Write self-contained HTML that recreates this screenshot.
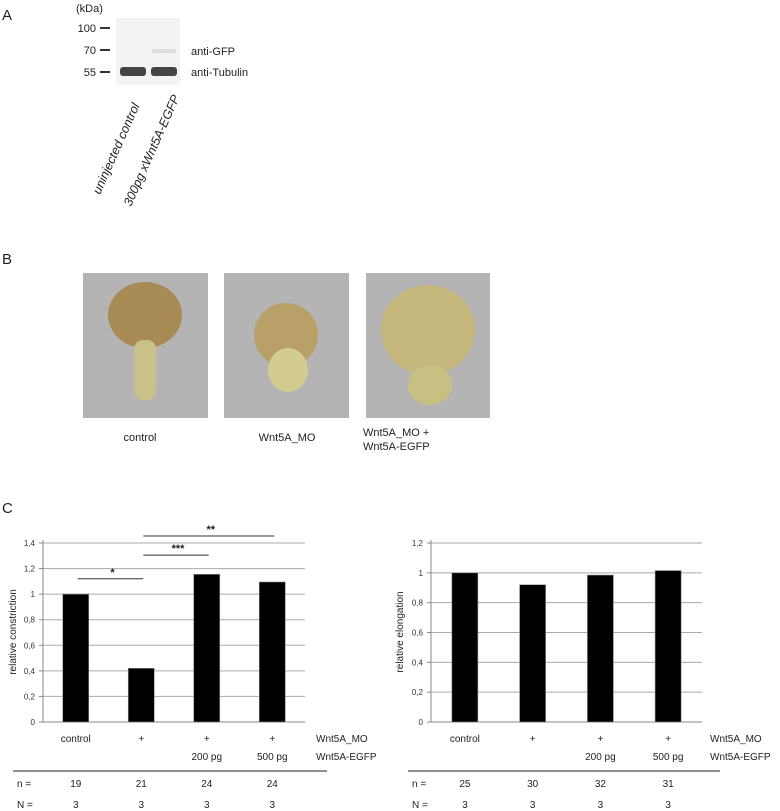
<!DOCTYPE html>
<html><head><meta charset="utf-8"><style>
body{margin:0;background:#fff;}
svg{display:block;font-family:"Liberation Sans",Arial,sans-serif;}
</style></head><body>
<svg width="780" height="811" viewBox="0 0 780 811">
<!-- Panel A -->
<text x="2" y="20" font-size="15" fill="#222">A</text>
<g>
<text x="76" y="12" font-size="11" fill="#222">(kDa)</text>
<rect x="116" y="18" width="64" height="67" fill="#f3f3f3"/>
<text x="96" y="32" font-size="11" text-anchor="end" fill="#222">100</text>
<text x="96" y="54" font-size="11" text-anchor="end" fill="#222">70</text>
<text x="96" y="76" font-size="11" text-anchor="end" fill="#222">55</text>
<rect x="100" y="27" width="10" height="2" fill="#333"/>
<rect x="100" y="49" width="10" height="2" fill="#333"/>
<rect x="100" y="71" width="10" height="2" fill="#333"/>
<rect x="120" y="67" width="26" height="9" rx="3" fill="#444"/>
<rect x="151" y="67" width="26" height="9" rx="3" fill="#444"/>
<rect x="152" y="49" width="24" height="4" rx="2" fill="#ddd"/>
<text x="191" y="55" font-size="11" fill="#222">anti-GFP</text>
<text x="191" y="76" font-size="11" fill="#222">anti-Tubulin</text>
<text transform="translate(100,195) rotate(-66)" font-size="12.5" font-style="italic" fill="#222">uninjected control</text>
<text transform="translate(131,207) rotate(-66)" font-size="12.5" font-style="italic" fill="#222">300pg xWnt5A-EGFP</text>
</g>
<!-- Panel B -->
<text x="2" y="264" font-size="15" fill="#222">B</text>
<g>
<rect x="83" y="273" width="125" height="145" fill="#b4b4b4"/>
<rect x="224" y="273" width="125" height="145" fill="#b4b4b4"/>
<rect x="366" y="273" width="124" height="145" fill="#b4b4b4"/>
<ellipse cx="145" cy="315" rx="37" ry="33" fill="#a88a55"/>
<rect x="134" y="340" width="22" height="60" rx="9" fill="#c9c08a"/>
<ellipse cx="286" cy="335" rx="32" ry="32" fill="#b8a068"/>
<ellipse cx="288" cy="370" rx="20" ry="22" fill="#d2cc90"/>
<ellipse cx="428" cy="330" rx="47" ry="45" fill="#c6b87c"/>
<ellipse cx="430" cy="385" rx="22" ry="20" fill="#c8bf82"/>
<text x="140" y="441" font-size="11" text-anchor="middle" fill="#222">control</text>
<text x="287" y="441" font-size="11" text-anchor="middle" fill="#222">Wnt5A_MO</text>
<text x="363" y="436" font-size="11" fill="#222">Wnt5A_MO +</text>
<text x="363" y="450" font-size="11" fill="#222">Wnt5A-EGFP</text>
</g>
<text x="2" y="513" font-size="15" fill="#222">C</text>
<g id="chart1"></g>
<g id="chart2"></g>
</svg>
<script>
const categories = ["control", "+", "+", "+"];
const egfpLabels = ["", "", "200 pg", "500 pg"];
const constrictionValues = [1.0, 0.42, 1.155, 1.095];
const elongationValues = [1.0, 0.92, 0.985, 1.015];
const constrictionN = ["19", "21", "24", "24"];
const elongationN = ["25", "30", "32", "31"];
const replicatesN = ["3", "3", "3", "3"];
const constrictionTicks = ["0", "0,2", "0,4", "0,6", "0,8", "1", "1,2", "1,4"];
const elongationTicks = ["0", "0,2", "0,4", "0,6", "0,8", "1", "1,2"];
const sigBars = [{from:0, to:1, y:1.12, label:"*"}, {from:1, to:2, y:1.305, label:"***"}, {from:1, to:3, y:1.455, label:"**"}];

const NS = "http://www.w3.org/2000/svg";
function mk(parent, tag, attrs, text) {
  const el = document.createElementNS(NS, tag);
  for (const k in attrs) el.setAttribute(k, attrs[k]);
  if (text !== undefined) el.textContent = text;
  parent.appendChild(el);
  return el;
}
function drawChart(gid, cfg) {
  const g = document.getElementById(gid);
  const x0 = cfg.x0, x1 = cfg.x1, yTop = 543, yBot = 722;
  const ymax = cfg.max;
  const yS = v => yBot - v / ymax * (yBot - yTop);
  const bw = (x1 - x0) / cfg.values.length;
  const xC = i => x0 + bw * (i + 0.5);
  cfg.ticks.forEach((t, i) => {
    const v = i * 0.2, y = yS(v);
    if (i > 0) { const gl = mk(g, "line", {x1:x0, x2:x1, y1:y, y2:y, stroke:"#aaa", "stroke-width":1});
        }
    mk(g, "line", {x1:x0-4, x2:x0, y1:y, y2:y, stroke:"#888"});
    const tl = mk(g, "text", {x:x0-8, y:y+3, "font-size":8, "text-anchor":"end", fill:"#333"}, t);
     
  });
  mk(g, "line", {x1:x0, x2:x0, y1:yTop-3, y2:yBot, stroke:"#888"});
  mk(g, "line", {x1:x0, x2:x1, y1:yBot, y2:yBot, stroke:"#888"});
  const yt = mk(g, "text", {transform:`translate(${cfg.titleX},632) rotate(-90)`, "font-size":10, "text-anchor":"middle", fill:"#222"}, cfg.title);
   
  cfg.values.forEach((v, i) => {
    const b = mk(g, "rect", {x:xC(i)-13, y:yS(v), width:26, height:yBot-yS(v), fill:"#000", stroke:"#888", "stroke-width":0.6});
     
    mk(g, "text", {x:xC(i), y:742, "font-size":10, "text-anchor":"middle", fill:"#222"}, categories[i]);
    mk(g, "text", {x:xC(i), y:760, "font-size":10, "text-anchor":"middle", fill:"#222"}, egfpLabels[i]);
    mk(g, "text", {x:xC(i), y:787, "font-size":10, "text-anchor":"middle", fill:"#222"}, cfg.n[i]);
    mk(g, "text", {x:xC(i), y:808, "font-size":10, "text-anchor":"middle", fill:"#222"}, replicatesN[i]);
  });
  mk(g, "text", {x:cfg.labelX, y:742, "font-size":10, fill:"#222"}, "Wnt5A_MO");
  mk(g, "text", {x:cfg.labelX, y:760, "font-size":10, fill:"#222"}, "Wnt5A-EGFP");
  mk(g, "line", {x1:cfg.lineX0, x2:cfg.lineX1, y1:771, y2:771, stroke:"#222", "stroke-width":1});
  mk(g, "text", {x:cfg.lineX0+4, y:787, "font-size":10, fill:"#222"}, "n =");
  mk(g, "text", {x:cfg.lineX0+4, y:808, "font-size":10, fill:"#222"}, "N =");
  (cfg.sig || []).forEach(s => {
    const y = yS(s.y);
    const l = mk(g, "line", {x1:xC(s.from)+2, x2:xC(s.to)+2, y1:y, y2:y, stroke:"#333", "stroke-width":1});
     
    mk(g, "text", {x:(xC(s.from)+xC(s.to))/2+4, y:y-3, "font-size":11, "font-weight":"bold", "text-anchor":"middle", fill:"#222"}, s.label);
  });
}
drawChart("chart1", {x0:43, x1:305, max:1.4, values:constrictionValues, ticks:constrictionTicks, n:constrictionN,
  title:"relative constriction", titleX:16, labelX:316, lineX0:13, lineX1:327, sig:sigBars});
drawChart("chart2", {x0:431, x1:702, max:1.2, values:elongationValues, ticks:elongationTicks, n:elongationN,
  title:"relative elongation", titleX:403, labelX:710, lineX0:408, lineX1:720});
</script>
</body></html>
